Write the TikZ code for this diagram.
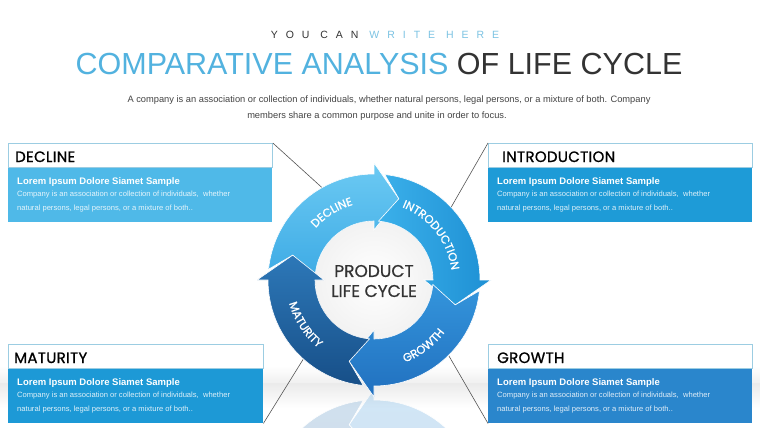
\documentclass[tikz,border=0pt]{standalone}
\usepackage{fontspec}
\setmainfont{Liberation Sans}
\newfontfamily\popfont{Poppins}
\usetikzlibrary{decorations.text}
\definecolor{tblue}{HTML}{52B2DF}
\definecolor{tdark}{HTML}{333333}
\definecolor{wblue}{HTML}{7CC3E3}
\definecolor{subgray}{HTML}{444444}
\definecolor{hdrline}{HTML}{9CCDE2}
\definecolor{bdecl}{HTML}{4FB9E8}
\definecolor{bintro}{HTML}{1E9BD7}
\definecolor{bmat}{HTML}{1D99D6}
\definecolor{bgrow}{HTML}{2A86CC}
\definecolor{connc}{HTML}{555555}
\definecolor{dtop}{HTML}{6CCAF3}
\definecolor{dbot}{HTML}{3EABE5}
\definecolor{ileft}{HTML}{3BB0EA}
\definecolor{iright}{HTML}{1E90D4}
\definecolor{gtop}{HTML}{3495DC}
\definecolor{gbot}{HTML}{2170BF}
\definecolor{mtop}{HTML}{2D78B8}
\definecolor{mbot}{HTML}{174F88}
\newcommand\arcfont{\popfont\addfontfeature{FakeBold=1}\fontsize{11.5}{12}\selectfont}
\newcommand\lcarrow[3]{%
  \path[#1] ({#2-4.37}:59pt) -- ({#2-17}:85pt) -- ({#2-5.84}:106pt)
    arc[start angle=#2-5.84, end angle=#3, radius=106pt]
    -- (#3:117pt) -- ({#3-17}:85pt) -- (#3:50pt) -- (#3:59pt)
    arc[start angle=#3, end angle=#2-4.37, radius=59pt] -- cycle;}
\newcommand\ringarrows{%
  \lcarrow{arrD}{180}{90}%
  \lcarrow{arrI}{90}{0}%
  \lcarrow{arrG}{0}{-90}%
  \lcarrow{arrM}{-90}{-180}}
\newcommand\lifebox[7]{%
  \node[bodybox, fill=#5, minimum width=#4pt, anchor=north west] (#1b) at (#2,-#3-24) {};
  \node[hdrbox, minimum width=#4pt, anchor=north west] (#1h) at (#2,-#3) {};
  \node[hdrtxt, anchor=base west] (#1t) at (#2+#7,-#3-19) {#6};
  \node[lorem, anchor=base west] (#1l) at (#2+9,-#3-41) {Lorem Ipsum Dolore Siamet Sample};
  \node[smalltxt, anchor=base west] (#1a) at (#2+9,-#3-53.5) {Company is an association or collection of individuals,\ \ whether};
  \node[smalltxt, anchor=base west] (#1c) at (#2+9,-#3-67.5) {natural persons, legal persons, or a mixture of both..};
}
\tikzset{
  hdrbox/.style={draw=hdrline, line width=0.8pt, fill=white, minimum height=24pt, inner sep=0pt},
  bodybox/.style={minimum height=55pt, inner sep=0pt},
  hdrtxt/.style={font=\popfont\addfontfeature{FakeBold=1,LetterSpace=2}\fontsize{15}{16}\selectfont, text=black, inner sep=0pt},
  lorem/.style={font=\fontsize{9.5}{11}\selectfont\bfseries, text=white, inner sep=0pt},
  smalltxt/.style={font=\fontsize{7.6}{9}\selectfont, text=white, text opacity=0.85, inner sep=0pt},
  conn/.style={draw=connc, line width=0.6pt},
  arrD/.style={top color=dtop, bottom color=dbot, draw=white, line width=0.6pt},
  arrI/.style={left color=ileft, right color=iright, draw=white, line width=0.6pt},
  arrG/.style={top color=gtop, bottom color=gbot, draw=white, line width=0.6pt},
  arrM/.style={top color=mtop, bottom color=mbot, draw=white, line width=0.6pt},
  arclabel/.style={decorate, decoration={text along path, text align=center, text color=white, text={|\arcfont|#1}}},
}
\begin{document}
\begin{tikzpicture}[x=1pt,y=1pt]
\useasboundingbox (0,0) rectangle (760,-428);
\fill[white] (0,0) rectangle (760,-428);
% floor band
\fill[top color=white, bottom color=gray!12] (0,-366) rectangle (760,-383);
\fill[top color=gray!16, bottom color=white] (0,-383) rectangle (760,-408);
% titles
\node[font=\fontsize{10.5}{12}\selectfont\addfontfeature{LetterSpace=76}, inner sep=0pt] (kicker) at (385,-35) {\textcolor{tdark}{YOU CAN} \textcolor{wblue}{WRITE HERE}};
\node[font=\fontsize{30.5}{34}\selectfont, inner sep=0pt] (title) at (379,-64) {\textcolor{tblue}{COMPARATIVE ANALYSIS} \textcolor{tdark}{OF LIFE CYCLE}};
\node[font=\fontsize{9.3}{11}\selectfont, text=subgray, inner sep=0pt] (sub1) at (389,-100) {A company is an association or collection of individuals, whether natural persons, legal persons, or a mixture of both. Company};
\node[font=\fontsize{9.3}{11}\selectfont, text=subgray, inner sep=0pt] (sub2) at (377,-116) {members share a common purpose and unite in order to focus.};
% reflection
\begin{scope}
  \clip (0,-393) rectangle (760,-428);
  \begin{scope}[transparency group, opacity=0.22, yshift=-786pt, yscale=-1]
    \begin{scope}[shift={(374,-280)}]
      \ringarrows
    \end{scope}
  \end{scope}
\end{scope}
% boxes
\lifebox{dec}{8}{143}{264}{bdecl}{DECLINE}{7}
\lifebox{intro}{488}{143}{264}{bintro}{INTRODUCTION}{14}
\lifebox{mat}{8}{344}{255}{bmat}{MATURITY}{6}
\lifebox{grow}{488}{344}{264}{bgrow}{GROWTH}{9}
% ring
\begin{scope}[shift={(374,-280)}]
  \coordinate (rd) at (119:104pt);
  \coordinate (ri) at (43:104pt);
  \coordinate (rm) at (228:104pt);
  \coordinate (rg) at (-45:104pt);
\end{scope}
\draw[conn] (dech.north east) -- (rd);
\draw[conn] (introh.north west) -- (ri);
\draw[conn] (matb.south east) -- (rm);
\draw[conn] (growb.south west) -- (rg);
\begin{scope}[shift={(374,-280)}]
  \fill[inner color=white, outer color=gray!10] (0,0) circle[radius=59pt];
  \ringarrows
  \path[arclabel=DECLINE] (162:78pt) arc[start angle=162, end angle=82, radius=78pt];
  \path[arclabel=INTRODUCTION] (80:78pt) arc[start angle=80, end angle=-4, radius=78pt];
  \path[arclabel=GROWTH] (-95:88pt) arc[start angle=-95, end angle=-11, radius=88pt];
  \path[arclabel=MATURITY] (-189:88pt) arc[start angle=-189, end angle=-105, radius=88pt];
\end{scope}
\node[font=\popfont\addfontfeature{FakeBold=0.6}\fontsize{17}{20}\selectfont, text=tdark, align=center] (ctr) at (374,-281) {PRODUCT\\LIFE CYCLE};
\end{tikzpicture}
\end{document}
